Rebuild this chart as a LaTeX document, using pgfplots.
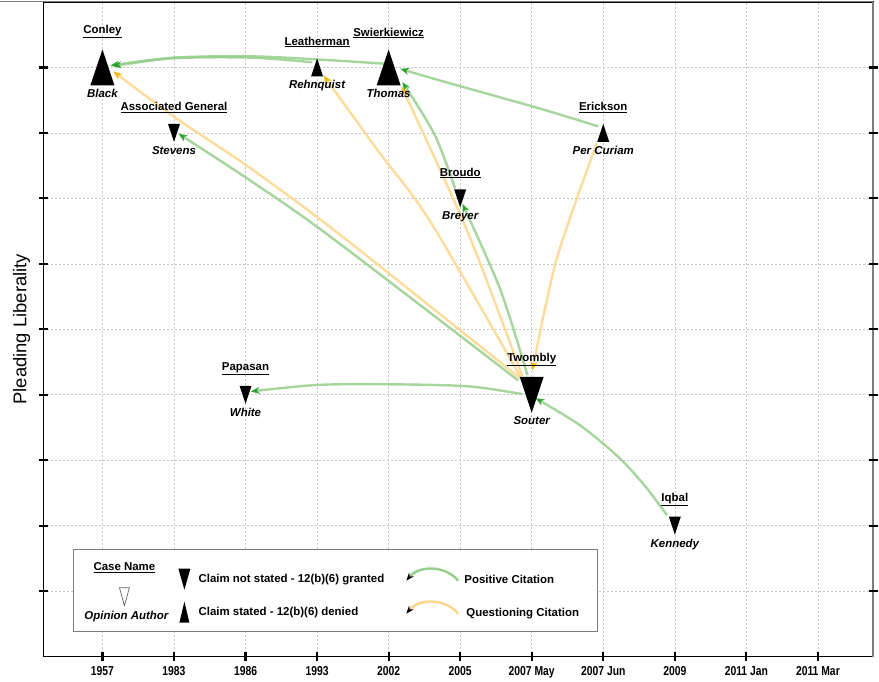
\documentclass[border=0pt]{standalone}
\usepackage{fontspec}
\setmainfont{Liberation Sans}
\newfontfamily\narrowfont[FakeStretch=0.8]{Liberation Sans}
\usepackage{pgfplots}
\pgfplotsset{compat=1.18}
\usepackage{pgfplotstable}
\usetikzlibrary{arrows.meta}

\definecolor{poscol}{RGB}{150,206,140}
\definecolor{poshead}{RGB}{40,160,40}
\definecolor{quecol}{RGB}{253,214,138}
\definecolor{quehead}{RGB}{245,178,0}
\definecolor{framegray}{RGB}{125,125,125}

\newcommand\casefont{\fontsize{11.5}{13}\selectfont\bfseries}
\newcommand\authfont{\fontsize{11.5}{13}\selectfont\bfseries\itshape}

% tall isosceles triangles, mark size = half height
\pgfdeclareplotmark{utri}{%
  \pgfpathmoveto{\pgfqpoint{0pt}{\pgfplotmarksize}}%
  \pgfpathlineto{\pgfqpoint{-0.667\pgfplotmarksize}{-\pgfplotmarksize}}%
  \pgfpathlineto{\pgfqpoint{0.667\pgfplotmarksize}{-\pgfplotmarksize}}%
  \pgfpathclose
  \pgfusepathqfill}
\pgfdeclareplotmark{dtri}{%
  \pgfpathmoveto{\pgfqpoint{0pt}{-\pgfplotmarksize}}%
  \pgfpathlineto{\pgfqpoint{-0.667\pgfplotmarksize}{\pgfplotmarksize}}%
  \pgfpathlineto{\pgfqpoint{0.667\pgfplotmarksize}{\pgfplotmarksize}}%
  \pgfpathclose
  \pgfusepathqfill}

\tikzset{
  posarr/.style={draw=poscol, draw opacity=0.85, line width=2.4bp, smooth, mark=none,
    -{Stealth[length=9bp,width=7bp,inset=2.5bp,color=poshead]}},
  quearr/.style={draw=quecol, draw opacity=0.85, line width=2.4bp, smooth, mark=none,
    -{Stealth[length=9bp,width=7bp,inset=2.5bp,color=quehead]}},
}

% cases: x = position on the time axis, y = pleading liberality
\pgfplotstableread{
x y case author
0 9 Conley Black
4 9 Swierkiewicz Thomas
}\bigup
\pgfplotstableread{
x y case author
6 4 Twombly Souter
}\bigdown
\pgfplotstableread{
x y case author
3 9 Leatherman Rehnquist
7 8 Erickson {Per Curiam}
}\smallup
\pgfplotstableread{
x y case author
1 8 {Associated General} Stevens
2 4 Papasan White
5 7 Broudo Breyer
8 2 Iqbal Kennedy
}\smalldown

\begin{document}
\begin{tikzpicture}
\begin{axis}[
    scale only axis,
    width=830bp, height=655bp,
    xmin=-0.824, xmax=10.77,
    ymin=0, ymax=10,
    xtick={0,...,10},
    xticklabels={1957,1983,1986,1993,2002,2005,2007 May,2007 Jun,2009,2011 Jan,2011 Mar},
    ytick={1,...,9},
    yticklabels={},
    xtick pos=bottom,
    ytick pos=both,
    tick align=center,
    major tick length=9bp,
    tick style={black, line width=2.2bp},
    grid=major,
    grid style={gray!45, line width=0.6bp, dash pattern=on 2bp off 2bp},
    axis line style={black, line width=1.3bp},
    xticklabel style={font=\narrowfont\bfseries\fontsize{13}{15}\selectfont, yshift=-1.5bp},
    ylabel={Pleading Liberality},
    ylabel style={font=\fontsize{18.5}{22}\selectfont, at={(axis description cs:-0.0265,0.5)}, anchor=center},
    clip=false,
]
\coordinate (SW) at (rel axis cs:0,0);
\coordinate (NE) at (rel axis cs:1,1);
\coordinate (SE) at (rel axis cs:1,0);

% markers with author below
\addplot[only marks, mark=utri, mark size=18bp, black, nodes near coords, point meta=explicit symbolic,
  nodes near coords style={font=\authfont, anchor=north, inner sep=0pt, yshift=-22bp}]
  table[x=x, y=y, meta=author] {\bigup};
\addplot[only marks, mark=dtri, mark size=18bp, black, nodes near coords, point meta=explicit symbolic,
  nodes near coords style={font=\authfont, anchor=north, inner sep=0pt, yshift=-22bp}]
  table[x=x, y=y, meta=author] {\bigdown};
\addplot[only marks, mark=utri, mark size=9bp, black, nodes near coords, point meta=explicit symbolic,
  nodes near coords style={font=\authfont, anchor=north, inner sep=0pt, yshift=-13bp}]
  table[x=x, y=y, meta=author] {\smallup};
\addplot[only marks, mark=dtri, mark size=9bp, black, nodes near coords, point meta=explicit symbolic,
  nodes near coords style={font=\authfont, anchor=north, inner sep=0pt, yshift=-13bp}]
  table[x=x, y=y, meta=author] {\smalldown};

% case names above
\addplot[draw=none, mark=none, nodes near coords={\underline{\pgfplotspointmeta}}, point meta=explicit symbolic,
  nodes near coords style={font=\casefont, anchor=south, inner sep=0pt, yshift=29bp}]
  table[x=x, y=y, meta=case] {\bigup};
\addplot[draw=none, mark=none, nodes near coords={\underline{\pgfplotspointmeta}}, point meta=explicit symbolic,
  nodes near coords style={font=\casefont, anchor=south, inner sep=0pt, yshift=29bp}]
  table[x=x, y=y, meta=case] {\bigdown};
\addplot[draw=none, mark=none, nodes near coords={\underline{\pgfplotspointmeta}}, point meta=explicit symbolic,
  nodes near coords style={font=\casefont, anchor=south, inner sep=0pt, yshift=20bp}]
  table[x=x, y=y, meta=case] {\smallup};
\addplot[draw=none, mark=none, nodes near coords={\underline{\pgfplotspointmeta}}, point meta=explicit symbolic,
  nodes near coords style={font=\casefont, anchor=south, inner sep=0pt, yshift=20bp}]
  table[x=x, y=y, meta=case] {\smalldown};

% citations (from citing case to cited case)
\addplot[posarr] coordinates {(4.05,9.05) (3.04,9.12) (2.07,9.17) (0.99,9.15) (0.11,9.03)};   % Swierkiewicz -> Conley
\addplot[posarr] coordinates {(2.93,9.08) (2.07,9.15) (0.99,9.14) (0.14,9.02)};               % Leatherman -> Conley
\addplot[posarr] coordinates {(6.93,8.10) (6.12,8.37) (4.72,8.80) (4.16,8.98)};               % Erickson -> Swierkiewicz
\addplot[posarr] coordinates {(4.93,7.15) (4.64,7.98) (4.19,8.78)};                           % Broudo -> Swierkiewicz
\addplot[posarr] coordinates {(5.94,4.30) (5.56,5.61) (5.03,6.92)};                           % Twombly -> Broudo
\addplot[quearr] coordinates {(5.87,4.28) (5.10,6.50) (4.18,8.71)};                           % Twombly -> Swierkiewicz
\addplot[quearr] coordinates {(5.84,4.28) (4.58,6.65) (3.83,7.76) (3.09,8.88)};               % Twombly -> Leatherman
\addplot[quearr] coordinates {(5.84,4.25) (3.35,6.42) (2.07,7.46) (1.05,8.21) (0.15,8.94)};   % Twombly -> Conley
\addplot[posarr] coordinates {(5.81,4.22) (3.18,6.42) (2.07,7.27) (1.06,7.99)};               % Twombly -> Associated General
\addplot[posarr] coordinates {(5.87,4.01) (5.10,4.13) (3.98,4.16) (3.00,4.15) (2.07,4.05)};   % Twombly -> Papasan
\addplot[quearr] coordinates {(6.91,7.84) (6.35,6.08) (6.01,4.37)};                           % Erickson -> Twombly
\addplot[posarr] coordinates {(7.89,2.16) (7.61,2.57) (7.23,3.03) (6.68,3.53) (6.05,3.95)};   % Iqbal -> Twombly
\end{axis}

% frame: grey top and right edges
\draw[framegray, line width=1bp] ([xshift=-43bp]SW |- NE) -- (NE);
\draw[framegray, line width=2bp] (NE) -- (SE);
\foreach \k in {1,...,9}
  \draw[black, line width=2.2bp] ([xshift=-4.5bp, yshift=\k*65.5bp]SE) -- ++(9bp,0);

% key
\begin{scope}[shift={(SW)}, x=1bp, y=1bp]
  \draw[framegray, line width=1.2bp, fill=white] (30,25) rectangle (554,107);
  \node[font=\casefont] at (81,89) {\underline{Case Name}};
  \draw[gray!80!black, line width=0.7bp] (76,69) -- (86,69) -- (81,51) -- cycle;
  \node[font=\authfont] at (83,40) {Opinion Author};
  \fill[black] (135,88) -- (147,88) -- (141,67) -- cycle;
  \fill[black] (141,55) -- (136,34) -- (146,34) -- cycle;
  \node[font=\casefont, anchor=west, inner sep=0pt] at (155,77) {Claim not stated - 12(b)(6) granted};
  \node[font=\casefont, anchor=west, inner sep=0pt] at (155,44) {Claim stated - 12(b)(6) denied};
  \draw[poscol, line width=2.4bp, -{Stealth[length=8bp,width=6bp,color=black]}] (415,76) to[bend right=50] (363,76);
  \draw[quecol, line width=2.4bp, -{Stealth[length=8bp,width=6bp,color=black]}] (415,43) to[bend right=50] (363,43);
  \node[font=\casefont, anchor=west, inner sep=0pt] at (421,77) {Positive Citation};
  \node[font=\casefont, anchor=west, inner sep=0pt] at (423,43) {Questioning Citation};
\end{scope}

% page size
\path ([shift={(-43bp,-22bp)}]SW) rectangle ([shift={(6bp,2bp)}]NE);
\end{tikzpicture}
\end{document}
